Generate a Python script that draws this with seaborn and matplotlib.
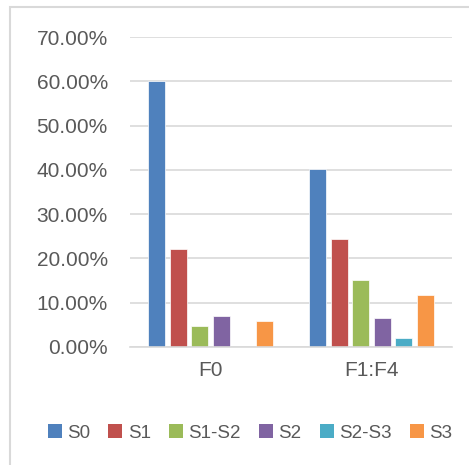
import matplotlib
matplotlib.use("Agg")
import matplotlib.pyplot as plt
import matplotlib.patches as mpatches
import matplotlib.ticker as mticker
import pandas as pd
import seaborn as sns

# Data
categories = ["F0", "F1:F4"]
series = ["S0", "S1", "S1-S2", "S2", "S2-S3", "S3"]
values_f0 = [0.600, 0.221, 0.048, 0.070, 0.000, 0.059]
values_f1f4 = [0.402, 0.244, 0.151, 0.065, 0.021, 0.117]
colors = ["#4F81BD", "#C0504D", "#9BBB59", "#8064A2", "#4BACC6", "#F79646"]
y_ticks = [0.0, 0.1, 0.2, 0.3, 0.4, 0.5, 0.6, 0.7]

rows = []
for cat, vals in zip(categories, [values_f0, values_f1f4]):
    for s, v in zip(series, vals):
        rows.append({"category": cat, "series": s, "value": v})
df = pd.DataFrame(rows)

sns.set_theme(style="white")
plt.rcParams["font.family"] = ["Liberation Sans", "DejaVu Sans"]

fig = plt.figure(figsize=(4.69, 4.65), dpi=100)
ax = fig.add_axes([130 / 469, 1 - 347 / 465, 322 / 469, 310 / 465])

sns.barplot(
    data=df, x="category", y="value", hue="series",
    order=categories, hue_order=series, palette=colors, saturation=1,
    width=0.8, gap=0.2, errorbar=None, legend=False, ax=ax,
    edgecolor="white", linewidth=0.5,
)

ax.set_xlim(-0.5, 1.5)
ax.set_ylim(0, 0.7)
ax.set_yticks(y_ticks)
ax.yaxis.set_major_formatter(mticker.FuncFormatter(lambda v, _: f"{v * 100:.2f}%"))
ax.set_xlabel("")
ax.set_ylabel("")
ax.grid(axis="y", color="#d9d9d9", linewidth=1.2)
ax.set_axisbelow(True)
for side in ["top", "right", "left"]:
    ax.spines[side].set_visible(False)
ax.spines["bottom"].set_color("#d9d9d9")
ax.spines["bottom"].set_linewidth(1.2)
ax.tick_params(axis="both", length=0, labelsize=15, colors="#595959")
ax.tick_params(axis="y", pad=16)
ax.tick_params(axis="x", pad=10)

# Legend below the plot
handles = [mpatches.Patch(facecolor=c, edgecolor="none", label=s) for s, c in zip(series, colors)]
leg = fig.legend(
    handles=handles, loc="center", bbox_to_anchor=(250 / 469, 1 - 433 / 465),
    ncol=6, frameon=False, fontsize=13.5, handlelength=0.75, handleheight=0.75,
    handletextpad=0.3, columnspacing=0.95, labelcolor="#595959",
)

# Chart area border
fig.patches.append(mpatches.Rectangle(
    (10 / 469, -0.05), 1.1, 1 - 7 / 465 + 0.05, transform=fig.transFigure,
    fill=False, edgecolor="#d9d9d9", linewidth=1.5, zorder=0,
))

fig.savefig("out.png", dpi=100, facecolor="white")
